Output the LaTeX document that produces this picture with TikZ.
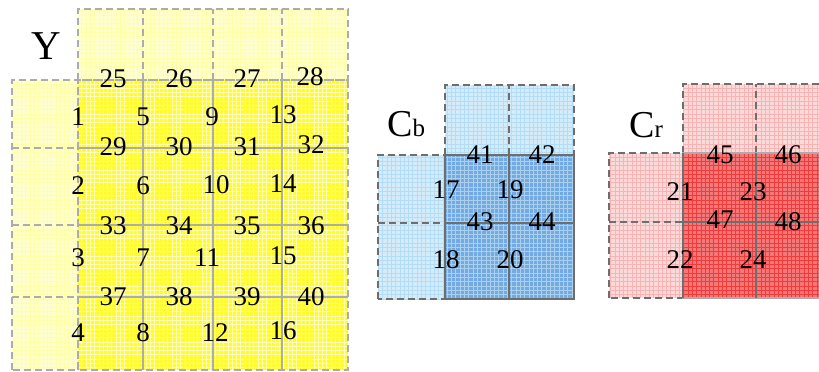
\documentclass[tikz,border=0pt]{standalone}
\usepackage{fontspec}
\setmainfont{Liberation Serif}
\definecolor{ymain}{RGB}{255,250,50}
\definecolor{ymainline}{RGB}{255,255,185}
\definecolor{ylight}{RGB}{255,255,205}
\definecolor{ylightline}{RGB}{255,255,170}
\definecolor{bmain}{RGB}{115,170,225}
\definecolor{bmainline}{RGB}{170,208,240}
\definecolor{blight}{RGB}{212,236,250}
\definecolor{blightline}{RGB}{180,220,245}
\definecolor{rmain}{RGB}{245,120,120}
\definecolor{rmainline}{RGB}{238,60,60}
\definecolor{rlight}{RGB}{252,218,218}
\definecolor{rlightline}{RGB}{248,180,180}
\definecolor{ygray}{RGB}{172,172,172}
\definecolor{dgray}{RGB}{110,110,110}
\newcommand\texrect[4]{\fill[#1] #3 rectangle #4; \draw[#2, line width=0.7pt, step=4.3] #3 grid #4;}
\begin{document}
\begin{tikzpicture}[x=1pt,y=1pt,
  ydash/.style={draw=ygray, line width=1.6pt, dash pattern=on 7pt off 4pt},
  ysolid/.style={draw=ygray, line width=1.6pt},
  cdash/.style={draw=dgray, line width=1.6pt, dash pattern=on 7pt off 4pt},
  csolid/.style={draw=dgray, line width=1.8pt},
  num/.style={inner sep=0pt, text=black, font=\fontsize{27}{27}\selectfont}]
\useasboundingbox (0,0) rectangle (819,372);
\clip (0,0) rectangle (819,372);
% ---------------- Y ----------------
\texrect{ylight}{ylightline}{(78,292)}{(348,363)}
\texrect{ylight}{ylightline}{(12,2)}{(78,292)}
\texrect{ymain}{ymainline}{(78,2)}{(348,292)}
\foreach \x in {143,213,282} \draw[ysolid] (\x,2) -- (\x,292);
\foreach \y in {224,147,75} \draw[ysolid] (78,\y) -- (348,\y);
\foreach \x in {143,213,282} \draw[ydash] (\x,292) -- (\x,363);
\foreach \y in {224,147,75} \draw[ydash] (12,\y) -- (78,\y);
\draw[ydash] (78,292) rectangle (348,363);
\draw[ydash] (12,2) rectangle (78,292);
\draw[ydash] (78,2) rectangle (348,292);
\node[anchor=base west, inner sep=0pt, font=\fontsize{41}{41}\selectfont] (ylab) at (31,312) {Y};
\foreach \t/\x/\y in {1/78/255,5/143/255,9/212/255,13/283/257,
  2/78/186,6/143/186,10/216/187,14/283/188,
  3/78/114,7/143/114,11/207/114,15/283/116,
  4/78/39,8/143/39,12/215/39,16/283/41,
  25/113/293,26/179/293,27/247/293,28/310/295,
  29/113/225,30/179/225,31/247/225,32/311/227,
  33/113/146,34/179/146,35/247/146,36/311/146,
  37/113/75,38/179/75,39/247/75,40/311/75}
  \node[num] (n\t) at (\x,\y) {\t};
% ---------------- Cb ----------------
\texrect{blight}{blightline}{(445,217)}{(574,287)}
\texrect{blight}{blightline}{(378,73)}{(445,217)}
\texrect{bmain}{bmainline}{(445,73)}{(574,217)}
\draw[cdash] (445,217) rectangle (574,287);
\draw[cdash] (509,217) -- (509,287);
\draw[cdash] (378,73) rectangle (445,217);
\draw[cdash] (378,149) -- (445,149);
\draw[csolid] (445,73) rectangle (574,217);
\draw[csolid] (509,73) -- (509,217);
\draw[csolid] (445,149) -- (574,149);
\node[anchor=base west, inner sep=0pt] (cblab) at (387,235) {\fontsize{38}{38}\selectfont C\fontsize{25}{25}\selectfont b};
\foreach \t/\x/\y in {41/480/217,42/542/217,17/446/182,19/510/182,
  43/480/150,44/542/150,18/446/112,20/510/112}
  \node[num] (n\t) at (\x,\y) {\t};
% ---------------- Cr ----------------
\texrect{rlight}{rlightline}{(683,219)}{(830,288)}
\texrect{rlight}{rlightline}{(609,74)}{(683,219)}
\texrect{rmain}{rmainline}{(683,74)}{(830,219)}
\draw[cdash] (683,219) rectangle (830,288);
\draw[cdash] (756,219) -- (756,288);
\draw[cdash] (609,74) rectangle (683,219);
\draw[cdash] (609,150) -- (683,150);
\draw[draw=ygray, line width=1.8pt] (683,74) rectangle (830,219);
\draw[csolid] (683,74) -- (683,219);
\draw[csolid] (756,74) -- (756,219);
\draw[csolid] (683,150) -- (830,150);
\node[anchor=base west, inner sep=0pt] (crlab) at (629,234) {\fontsize{38}{38}\selectfont C\fontsize{25}{25}\selectfont r};
\foreach \t/\x/\y in {45/720/217,46/788/217,21/680/180,23/753/180,
  47/720/152,48/788/150,22/680/112,24/753/112}
  \node[num] (n\t) at (\x,\y) {\t};
\end{tikzpicture}
\end{document}
